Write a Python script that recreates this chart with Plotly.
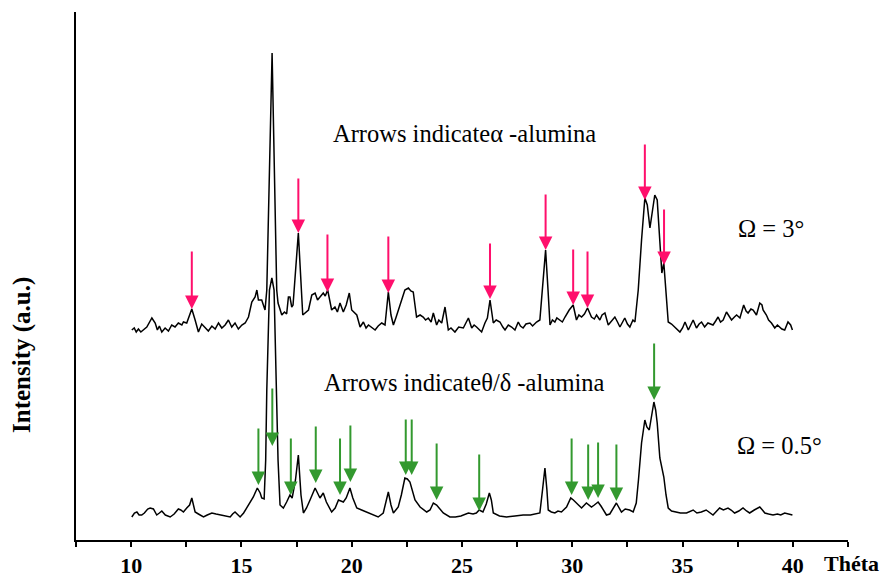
import plotly.graph_objects as go

# ---------------- data ----------------
theta_upper = [10.03, 10.14, 10.23, 10.33, 10.44, 10.56, 10.71, 10.94, 11.09, 11.19, 11.28, 11.39, 11.54, 11.69,
               11.84, 11.99, 12.14, 12.30, 12.37, 12.52, 12.75, 12.90, 13.05, 13.20, 13.35, 13.50, 13.66, 13.81,
               13.96, 14.11, 14.26, 14.41, 14.56, 14.71, 14.86, 15.02, 15.17, 15.32, 15.47, 15.62, 15.70, 15.77,
               15.92, 16.07, 16.15, 16.39, 16.60, 16.66, 16.83, 16.95, 17.05, 17.13, 17.20, 17.28, 17.34, 17.58,
               17.78, 17.90, 18.04, 18.19, 18.34, 18.45, 18.53, 18.71, 18.80, 18.91, 19.09, 19.24, 19.35, 19.47,
               19.62, 19.75, 19.89, 20.00, 20.23, 20.38, 20.53, 20.65, 20.76, 20.90, 21.06, 21.20, 21.36, 21.51,
               21.66, 21.78, 21.89, 22.00, 22.11, 22.25, 22.41, 22.57, 22.68, 22.79, 22.94, 23.10, 23.24, 23.35,
               23.47, 23.60, 23.70, 23.85, 23.95, 24.08, 24.23, 24.38, 24.50, 24.68, 24.85, 25.06, 25.29, 25.44,
               25.55, 25.66, 25.89, 26.04, 26.15, 26.27, 26.42, 26.55, 26.72, 26.85, 26.95, 27.10, 27.25, 27.40,
               27.55, 27.65, 27.77, 27.90, 28.08, 28.20, 28.38, 28.53, 28.65, 28.79, 28.90, 28.99, 29.10, 29.21,
               29.30, 29.44, 29.55, 29.67, 29.86, 30.04, 30.19, 30.30, 30.42, 30.55, 30.69, 30.87, 31.00, 31.10,
               31.25, 31.35, 31.48, 31.63, 31.75, 31.93, 32.05, 32.16, 32.38, 32.50, 32.61, 32.75, 32.84, 32.99,
               33.14, 33.29, 33.40, 33.52, 33.64, 33.74, 33.85, 33.94, 34.06, 34.15, 34.27, 34.35, 34.50, 34.65,
               34.88, 35.00, 35.11, 35.26, 35.38, 35.48, 35.63, 35.75, 35.86, 36.00, 36.15, 36.38, 36.50, 36.61,
               36.72, 36.84, 36.99, 37.10, 37.22, 37.35, 37.45, 37.60, 37.77, 37.88, 37.97, 38.10, 38.20, 38.35,
               38.50, 38.60, 38.65, 38.80, 38.90, 39.03, 39.18, 39.30, 39.40, 39.50, 39.63, 39.78, 39.90, 39.98]
intensity_upper = [210, 212, 208, 211, 208, 210, 213, 222, 217, 210, 214, 208, 212, 209,
                   215, 213, 217, 215, 218, 217, 231, 220, 208, 216, 213, 209, 214, 211,
                   217, 212, 215, 220, 213, 217, 211, 215, 217, 223, 238, 243, 250, 240,
                   240, 230, 250, 487, 250, 237, 225, 228, 226, 243, 243, 233, 235, 307,
                   225, 227, 230, 245, 247, 240, 242, 247, 244, 250, 230, 233, 228, 237,
                   228, 235, 247, 230, 225, 213, 218, 212, 215, 213, 210, 214, 217, 215,
                   248, 225, 215, 222, 230, 240, 250, 252, 249, 248, 223, 225, 223, 220,
                   222, 218, 227, 215, 220, 217, 233, 210, 212, 208, 213, 212, 222, 212,
                   215, 213, 208, 217, 222, 240, 217, 220, 218, 213, 210, 215, 213, 210,
                   218, 214, 212, 216, 217, 214, 218, 220, 250, 290, 250, 215, 220, 218,
                   222, 220, 218, 223, 230, 235, 220, 225, 223, 226, 232, 223, 221, 225,
                   220, 225, 227, 215, 218, 223, 218, 213, 222, 216, 213, 220, 218, 250,
                   300, 342, 335, 312, 330, 345, 340, 303, 267, 277, 237, 218, 216, 213,
                   208, 212, 218, 210, 215, 220, 212, 216, 218, 213, 217, 215, 219, 223,
                   218, 220, 228, 224, 220, 223, 225, 222, 235, 229, 227, 231, 230, 225,
                   237, 235, 230, 225, 220, 217, 212, 215, 213, 211, 210, 218, 215, 210]

theta_lower = [10.03, 10.15, 10.26, 10.36, 10.48, 10.60, 10.75, 10.86, 11.01, 11.16, 11.28, 11.39, 11.55, 11.77,
               11.95, 12.14, 12.25, 12.37, 12.52, 12.65, 12.75, 12.90, 13.05, 13.28, 13.45, 13.66, 13.85, 14.03,
               14.25, 14.49, 14.60, 14.71, 14.85, 14.94, 15.10, 15.24, 15.40, 15.54, 15.72, 15.85, 15.92, 16.03,
               16.10, 16.15, 16.27, 16.38, 16.48, 16.60, 16.66, 16.75, 16.90, 17.05, 17.20, 17.30, 17.45, 17.58,
               17.70, 17.81, 17.95, 18.11, 18.34, 18.45, 18.56, 18.71, 18.85, 19.09, 19.25, 19.40, 19.62, 19.75,
               19.92, 20.05, 20.23, 20.45, 20.68, 20.95, 21.20, 21.43, 21.55, 21.66, 21.78, 21.89, 22.11, 22.25,
               22.41, 22.52, 22.64, 22.75, 22.87, 23.10, 23.40, 23.55, 23.70, 23.85, 23.93, 24.15, 24.45, 24.70,
               24.95, 25.10, 25.29, 25.50, 25.65, 25.78, 25.95, 26.10, 26.24, 26.33, 26.42, 26.70, 27.02, 27.40,
               27.77, 28.10, 28.40, 28.53, 28.65, 28.76, 28.85, 28.91, 29.05, 29.21, 29.35, 29.51, 29.74, 29.93,
               30.05, 30.19, 30.42, 30.64, 30.75, 30.87, 31.00, 31.17, 31.30, 31.40, 31.55, 31.70, 31.85, 32.00,
               32.10, 32.23, 32.40, 32.60, 32.76, 32.90, 33.00, 33.14, 33.29, 33.38, 33.49, 33.60, 33.70, 33.78,
               33.85, 33.97, 34.15, 34.25, 34.35, 34.50, 34.65, 34.90, 35.18, 35.30, 35.48, 35.65, 35.85, 36.07,
               36.20, 36.38, 36.55, 36.68, 36.85, 37.06, 37.20, 37.36, 37.55, 37.74, 37.90, 38.04, 38.25, 38.50,
               38.62, 38.73, 38.90, 39.10, 39.30, 39.45, 39.63, 39.80, 39.98]
intensity_lower = [23, 27, 28, 25, 25, 27, 31, 32, 31, 25, 27, 29, 25, 23,
                   26, 31, 30, 28, 32, 35, 42, 28, 26, 23, 25, 27, 26, 25,
                   24, 23, 26, 28, 25, 23, 27, 32, 37, 43, 52, 47, 42, 41,
                   80, 150, 250, 262, 250, 150, 80, 35, 32, 38, 45, 42, 60, 85,
                   45, 27, 32, 40, 52, 47, 42, 47, 38, 28, 32, 40, 38, 42,
                   52, 42, 32, 30, 28, 25, 23, 27, 38, 48, 35, 27, 33, 45,
                   62, 61, 58, 50, 40, 33, 28, 30, 37, 35, 33, 27, 23, 23,
                   24, 25, 27, 26, 27, 30, 28, 36, 47, 40, 27, 24, 23, 24,
                   25, 25, 26, 27, 50, 72, 50, 30, 28, 27, 29, 28, 33, 42,
                   40, 37, 32, 37, 35, 33, 35, 38, 34, 30, 25, 26, 32, 37,
                   33, 28, 31, 30, 28, 37, 60, 97, 120, 113, 110, 125, 138, 130,
                   117, 82, 63, 45, 32, 29, 28, 27, 27, 28, 30, 27, 28, 30,
                   28, 25, 29, 32, 30, 32, 30, 27, 29, 32, 29, 27, 30, 33,
                   30, 27, 26, 25, 26, 25, 27, 26, 25]

# alpha-alumina arrows (upper pattern): position, tip and tail intensity
alpha_theta = [12.75, 17.58, 18.90, 21.66, 26.27, 28.79, 30.04, 30.69, 33.29, 34.16]
alpha_tip = [231, 307, 248, 247, 241, 290, 235, 232, 340, 275]
alpha_tail = [290, 363, 307, 305, 298, 347, 292, 290, 397, 332]

# theta/delta-alumina arrows (lower pattern)
td_theta = [15.77, 16.40, 17.24, 18.37, 19.47, 19.94, 22.45, 22.72, 23.85, 25.78, 29.97, 30.72, 31.17, 32.00, 33.71]
td_tip = [55, 94, 45, 57, 45, 58, 65, 65, 40, 29, 45, 40, 42, 39, 140]
td_tail = [113, 153, 103, 115, 103, 116, 122, 122, 98, 87, 103, 97, 99, 97, 198]

x_tickvals = [7.5, 10, 12.5, 15, 17.5, 20, 22.5, 25, 27.5, 30, 32.5, 35, 37.5, 40, 42.5]
x_ticktext = ["", "10", "", "15", "", "20", "", "25", "", "30", "", "35", "", "40", ""]

PINK = "#FF0F6C"
GREEN = "#33992F"
FONT = "Liberation Serif"

fig = go.Figure()
fig.add_trace(go.Scatter(x=theta_upper, y=intensity_upper, mode="lines",
                         line=dict(color="black", width=1.5), showlegend=False))
fig.add_trace(go.Scatter(x=theta_lower, y=intensity_lower, mode="lines",
                         line=dict(color="black", width=1.5), showlegend=False))

annotations = []
for xs, tips, tails, col in [(alpha_theta, alpha_tip, alpha_tail, PINK),
                             (td_theta, td_tip, td_tail, GREEN)]:
    for xv, tp, tl in zip(xs, tips, tails):
        annotations.append(dict(x=xv, y=tp, ax=xv, ay=tl, xref="x", yref="y", axref="x", ayref="y",
                                text="", showarrow=True, arrowhead=2, arrowsize=1.35, arrowwidth=2,
                                arrowcolor=col, standoff=0))

annotations += [
    dict(x=25.1, y=407, xref="x", yref="y", text="Arrows indicateα -alumina", showarrow=False,
         font=dict(family=FONT, size=24.5, color="black")),
    dict(x=25.1, y=158, xref="x", yref="y", text="Arrows indicateθ/δ -alumina", showarrow=False,
         font=dict(family=FONT, size=24.5, color="black")),
    dict(x=39.0, y=312, xref="x", yref="y", text="Ω = 3°", showarrow=False,
         font=dict(family=FONT, size=24.5, color="black")),
    dict(x=39.4, y=95, xref="x", yref="y", text="Ω = 0.5°", showarrow=False,
         font=dict(family=FONT, size=24.5, color="black")),
    dict(x=1.005, y=-0.045, xref="paper", yref="paper", xanchor="center", yanchor="middle",
         text="<b>Théta</b>", showarrow=False,
         font=dict(family=FONT, size=22, color="black")),
    dict(x=-0.07, y=185, xref="paper", yref="y", xanchor="center", yanchor="middle",
         text="<b>Intensity (a.u.)</b>", showarrow=False,
         textangle=-90, font=dict(family=FONT, size=25, color="black")),
]

fig.update_layout(
    width=880, height=569,
    margin=dict(l=68, r=40, t=4, b=37, autoexpand=False),
    paper_bgcolor="white", plot_bgcolor="white",
    annotations=annotations,
    font=dict(family=FONT, color="black"),
)
fig.update_xaxes(range=[7.5, 42.5], showline=True, linecolor="black", linewidth=2,
                 showgrid=False, zeroline=False, ticks="outside", ticklen=5, tickwidth=2,
                 tickcolor="black", tickvals=x_tickvals, ticktext=x_ticktext,
                 ticklabelstandoff=0, automargin=False,
                 tickfont=dict(family=FONT, size=22, color="black", weight="bold"))
fig.update_yaxes(range=[0, 528], showline=True, linecolor="black", linewidth=2,
                 showgrid=False, zeroline=False, showticklabels=False, ticks="",
                 automargin=False)

fig.write_html("out.html")
